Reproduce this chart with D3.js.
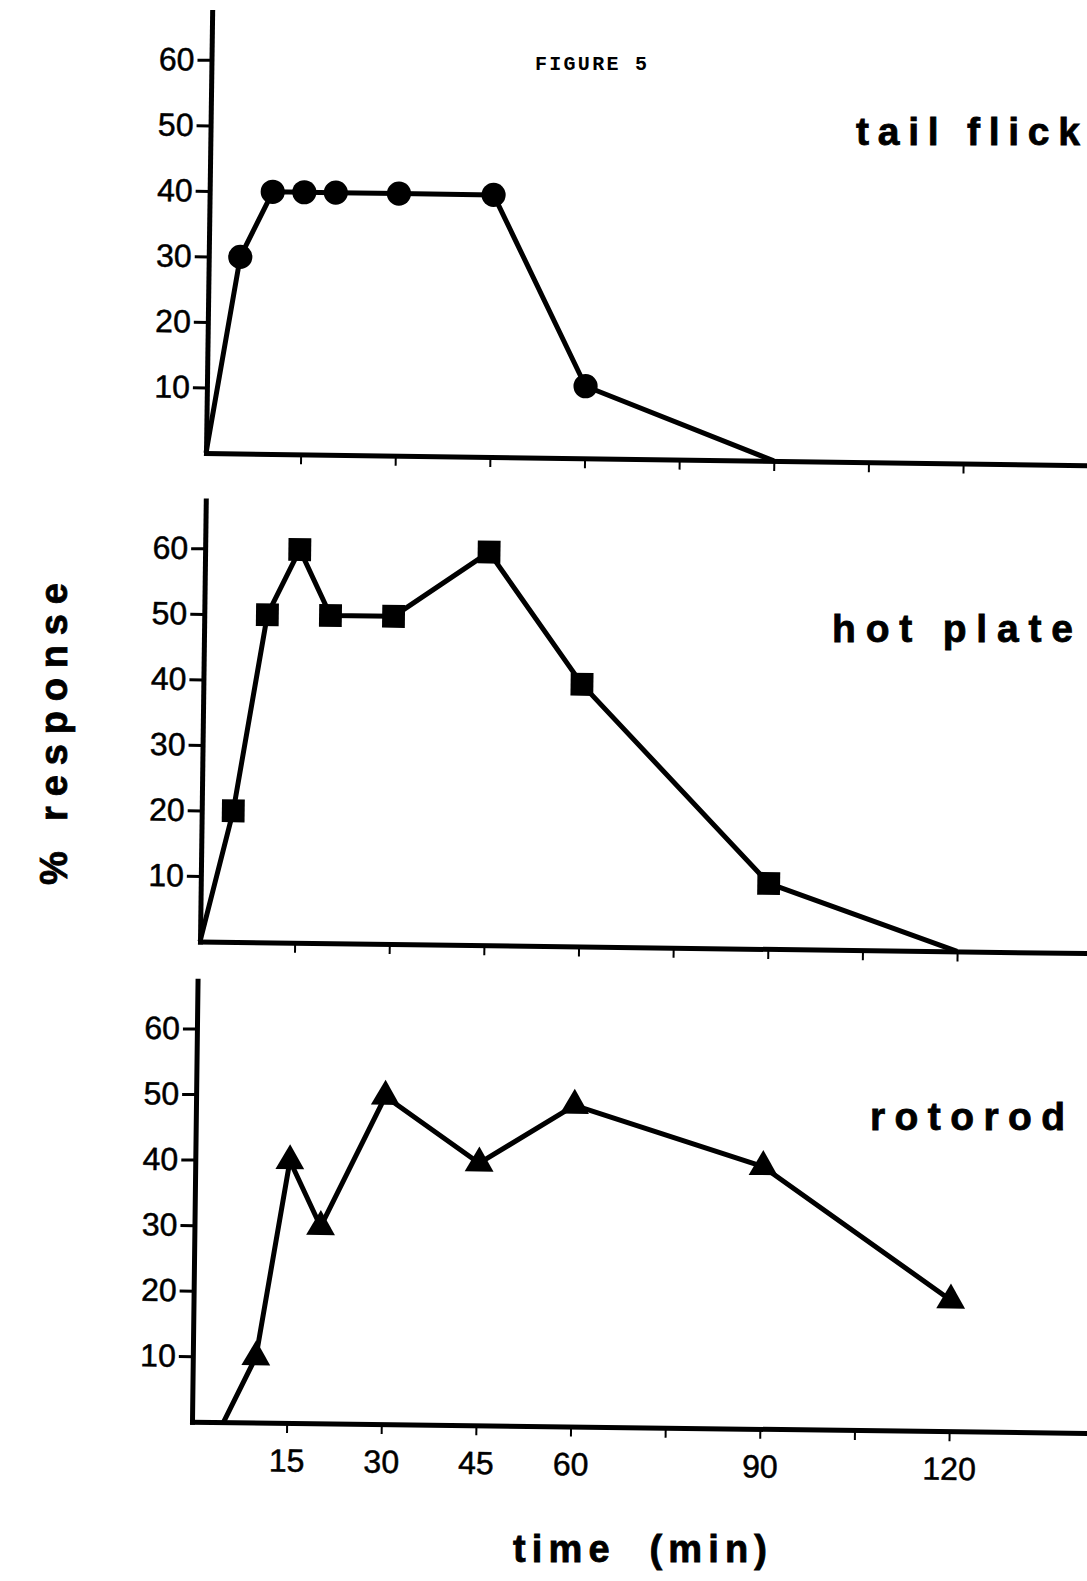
<!DOCTYPE html>
<html>
<head>
<meta charset="utf-8">
<script src="https://cdn.jsdelivr.net/npm/d3@7"></script>
<style>
  body { margin: 0; background: #fff; }
  svg { display: block; }
</style>
</head>
<body>
<div id="chart"></div>
<script>
// values (time in min, % response)
const tail_times = [0, 5, 10, 15, 20, 30, 45, 60, 90];
const tail_values = [0, 30, 40, 40, 40, 40, 40, 11, 0];
const hot_times = [0, 5, 10, 15, 20, 30, 45, 60, 90, 120];
const hot_values = [0, 20, 50, 60, 50, 50, 60, 40, 10, 0];
const roto_times = [5, 10, 15, 20, 30, 45, 60, 90, 120];
const roto_values = [0, 10, 40, 30, 50, 40, 49, 40, 20];

const y_ticks = [10, 20, 30, 40, 50, 60];
const x_ticks = [15, 30, 45, 60, 75, 90, 105, 120];
const x_labels = [15, 30, 45, 60, 90, 120];
const panel_names = ["tail flick", "hot plate", "rotorod"];

const width = 1087, height = 1581;
const font = '"Liberation Sans", Arial, Helvetica, sans-serif';

let svg = d3.select("#chart")
  .append("svg")
  .attr("width", width)
  .attr("height", height)
  .style("background", "#fff");

// the scan is slightly skewed, so each panel is rotated a little
let panels = [
  {name: panel_names[0], times: tail_times, values: tail_values, symbol: d3.symbolCircle, size: 460,
   ox: 206, oy: 453, rot: 0.8, tx: 856, ty: 145, tw: 224},
  {name: panel_names[1], times: hot_times, values: hot_values, symbol: d3.symbolSquare, size: 520,
   ox: 200, oy: 941.5, rot: 0.75, tx: 832, ty: 642, tw: 241},
  {name: panel_names[2], times: roto_times, values: roto_values, symbol: d3.symbolTriangle, size: 360,
   ox: 192, oy: 1421.7, rot: 0.72, tx: 870, ty: 1130, tw: 195}
];

let x = d3.scaleLinear().domain([0, 142]).range([0, 896]);
let y = d3.scaleLinear().domain([0, 67.3]).range([0, -441]);

panels.forEach((p, i) => {
  let g = svg.append("g")
    .attr("transform", `translate(${p.ox},${p.oy}) rotate(${p.rot})`);

  let last = i === panels.length - 1;

  let xAxis = g.append("g")
    .call(d3.axisBottom(x)
      .tickValues(x_ticks)
      .tickSize(10)
      .tickSizeOuter(0)
      .tickPadding(16)
      .tickFormat(d => (last && x_labels.includes(d)) ? d : ""));
  xAxis.select(".domain").attr("stroke-width", 5).attr("stroke-linecap", "square");
  xAxis.selectAll(".tick line").attr("stroke-width", 2);
  xAxis.selectAll("text")
    .attr("font-family", font).attr("font-size", 32).attr("fill", "#000")
    .attr("stroke", "#000").attr("stroke-width", 0.5);

  let yAxis = g.append("g")
    .call(d3.axisLeft(y)
      .tickValues(y_ticks)
      .tickSize(14)
      .tickSizeOuter(0)
      .tickPadding(3));
  yAxis.select(".domain").attr("stroke-width", 5).attr("stroke-linecap", "square");
  yAxis.selectAll(".tick line").attr("stroke-width", 3);
  yAxis.selectAll("text")
    .attr("font-family", font).attr("font-size", 32).attr("fill", "#000")
    .attr("stroke", "#000").attr("stroke-width", 0.5);

  let data = p.times.map((t, k) => ({t: t, v: p.values[k]}));

  g.append("path")
    .datum(data)
    .attr("fill", "none")
    .attr("stroke", "#000")
    .attr("stroke-width", 5)
    .attr("stroke-linejoin", "round")
    .attr("d", d3.line().x(d => x(d.t)).y(d => y(d.v)));

  g.selectAll(".mark")
    .data(data.filter(d => d.v > 0))
    .enter()
    .append("path")
    .attr("class", "mark")
    .attr("transform", d => `translate(${x(d.t)},${y(d.v)})`)
    .attr("d", d3.symbol().type(p.symbol).size(p.size))
    .attr("fill", "#000");

  svg.append("text")
    .attr("x", p.tx)
    .attr("y", p.ty)
    .attr("font-family", font)
    .attr("font-weight", "bold")
    .attr("font-size", 39)
    .attr("stroke", "#000")
    .attr("stroke-width", 0.8)
    .attr("textLength", p.tw)
    .attr("lengthAdjust", "spacing")
    .text(p.name);
});

svg.append("text")
  .attr("x", 535)
  .attr("y", 70)
  .attr("font-family", '"Liberation Mono", "Courier New", monospace')
  .attr("font-weight", "bold")
  .attr("font-size", 20)
  .attr("textLength", 112)
  .attr("lengthAdjust", "spacing")
  .text("FIGURE 5");

svg.append("text")
  .attr("transform", "translate(67,734) rotate(-90)")
  .attr("text-anchor", "middle")
  .attr("font-family", font)
  .attr("font-weight", "bold")
  .attr("font-size", 38)
  .attr("stroke", "#000")
  .attr("stroke-width", 0.8)
  .attr("textLength", 302)
  .attr("lengthAdjust", "spacing")
  .text("% response");

svg.append("text")
  .attr("x", 513)
  .attr("y", 1562)
  .attr("font-family", font)
  .attr("font-weight", "bold")
  .attr("font-size", 38)
  .attr("stroke", "#000")
  .attr("stroke-width", 0.8)
  .attr("textLength", 254)
  .attr("lengthAdjust", "spacing")
  .style("white-space", "pre")
  .text("time  (min)");
</script>
</body>
</html>
